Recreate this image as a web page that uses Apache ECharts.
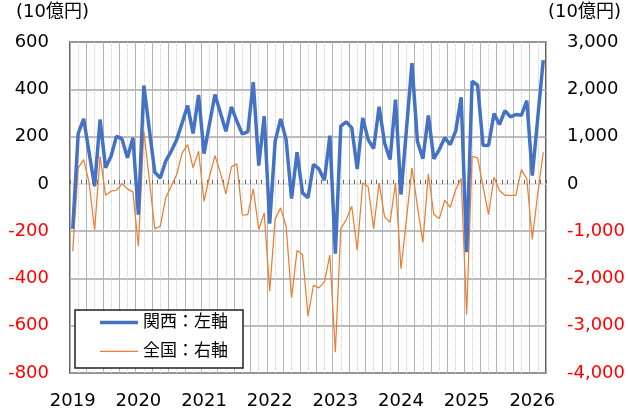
<!DOCTYPE html>
<html><head><meta charset="utf-8">
<script src="https://cdn.jsdelivr.net/npm/echarts@6/dist/echarts.min.js"></script>
<style>html,body{margin:0;padding:0;background:#fff}#c{width:628px;height:410px}</style>
</head><body><div id="c"></div>
<script>
const categories = [
'2019/1','2019/2','2019/3','2019/4','2019/5','2019/6','2019/7','2019/8','2019/9','2019/10','2019/11','2019/12',
'2020/1','2020/2','2020/3','2020/4','2020/5','2020/6','2020/7','2020/8','2020/9','2020/10','2020/11','2020/12',
'2021/1','2021/2','2021/3','2021/4','2021/5','2021/6','2021/7','2021/8','2021/9','2021/10','2021/11','2021/12',
'2022/1','2022/2','2022/3','2022/4','2022/5','2022/6','2022/7','2022/8','2022/9','2022/10','2022/11','2022/12',
'2023/1','2023/2','2023/3','2023/4','2023/5','2023/6','2023/7','2023/8','2023/9','2023/10','2023/11','2023/12',
'2024/1','2024/2','2024/3','2024/4','2024/5','2024/6','2024/7','2024/8','2024/9','2024/10','2024/11','2024/12',
'2025/1','2025/2','2025/3','2025/4','2025/5','2025/6','2025/7','2025/8','2025/9','2025/10','2025/11','2025/12',
'2026/1','2026/2','2026/3'];
const kansai = [
-190,213,275,131,-10,272,68,117,201,190,110,195,
-130,416,230,49,25,96,138,187,258,331,213,376,
128,254,378,300,222,326,265,211,220,430,77,286,
-168,180,275,187,-62,134,-38,-59,82,63,15,204,
-295,244,262,237,63,279,187,149,326,173,103,356,
-45,230,511,180,106,289,106,145,195,166,223,366,
-289,434,417,163,162,297,251,310,283,293,290,352,
35,279,523];
const zenkoku = [
-1425,338,514,21,-981,584,-241,-156,-135,6,-106,-169,
-1319,1112,91,-951,-896,-296,-51,197,655,831,338,689,
-368,161,598,233,-211,359,423,-664,-649,-106,-966,-613,
-2270,-740,-508,-896,-2410,-1410,-1494,-2799,-2144,-2199,-2072,-1509,
-3560,-945,-755,-473,-1404,21,-63,-951,21,-699,-812,21,
-1797,-750,338,-470,-1235,212,-649,-734,-347,-495,-120,112,
-2763,584,550,-51,-649,140,-142,-241,-241,-241,302,106,
-1177,-200,668];
const seriesNames = ['関西：左軸', '全国：右軸'];
const unitLabel = '(10億円)';

const FONT = '"DejaVu Sans", "Noto Sans CJK JP", sans-serif';
const negRed = v => (Number(v) < 0 ? '#FF0000' : '#000000');
const legendText = {fontSize: 17, color: '#000', fontFamily: FONT};
const chart = echarts.init(document.getElementById('c'), null, {renderer: 'canvas'});
chart.setOption({
  animation: false,
  backgroundColor: '#fff',
  textStyle: {fontFamily: FONT},
  grid: {left: 70, right: 81, top: 42, bottom: 37, show: true, borderColor: '#333', borderWidth: 1.5, backgroundColor: 'transparent'},
  graphic: [
    {type: 'text', left: 16, top: 3, style: {text: unitLabel, font: '18px ' + FONT, fill: '#000'}},
    {type: 'text', left: 548, top: 3, style: {text: unitLabel, font: '18px ' + FONT, fill: '#000'}},
    {type: 'rect', z: 100, shape: {x: 75, y: 310, width: 168, height: 58},
     style: {fill: '#fff', stroke: '#222', lineWidth: 1.5}}
  ],
  legend: [
    {left: 100, top: 314, padding: 0, itemWidth: 38, itemHeight: 3.5, icon: 'rect', z: 200,
     textStyle: legendText, data: [seriesNames[0]]},
    {left: 100, top: 343, padding: 0, itemWidth: 38, itemHeight: 1.25, icon: 'rect', z: 200,
     textStyle: legendText, data: [seriesNames[1]]}
  ],
  xAxis: [
    {
      type: 'category', data: categories, boundaryGap: true, position: 'bottom',
      axisLine: {show: false},
      axisTick: {show: true, inside: true, length: 4, interval: 0, lineStyle: {color: '#666'}},
      axisLabel: {
        interval: (idx) => idx % 12 === 0,
        formatter: (v) => v.split('/')[0],
        fontSize: 18, color: '#000', margin: 19, fontFamily: FONT
      },
      splitLine: {show: false}
    },
    {
      type: 'value', min: 0, max: 87, interval: 3, position: 'bottom',
      axisLine: {show: false}, axisTick: {show: false}, axisLabel: {show: false},
      splitLine: {show: true, lineStyle: {color: '#b4b4b4', width: 1}},
      minorTick: {show: false, splitNumber: 2},
      minorSplitLine: {show: true, lineStyle: {color: '#cfcfcf', width: 1, type: 'dotted'}}
    }
  ],
  yAxis: [
    {
      type: 'value', min: -800, max: 600, interval: 200, position: 'left',
      axisLine: {show: false}, axisTick: {show: false},
      axisLabel: {fontSize: 18, margin: 21, color: negRed, fontFamily: FONT},
      splitLine: {show: true, lineStyle: {width: 1.5, color: ['#a6a6a6','#a6a6a6','#a6a6a6','#a6a6a6','#d9d9d9','#a6a6a6','#a6a6a6','#a6a6a6']}}
    },
    {
      type: 'value', min: -4000, max: 3000, interval: 1000, position: 'right',
      axisLine: {show: false}, axisTick: {show: false},
      axisLabel: {fontSize: 18, margin: 21, color: negRed, fontFamily: FONT,
        formatter: v => Number(v).toLocaleString('en-US')},
      splitLine: {show: false}
    }
  ],
  series: [
    {name: seriesNames[0], type: 'line', xAxisIndex: 0, yAxisIndex: 0, data: kansai, symbol: 'none', z: 4,
     lineStyle: {color: '#4472C4', width: 3.5}, itemStyle: {color: '#4472C4'}},
    {name: seriesNames[1], type: 'line', xAxisIndex: 0, yAxisIndex: 1, data: zenkoku, symbol: 'none', z: 3,
     lineStyle: {color: '#ED7D31', width: 1.25}, itemStyle: {color: '#ED7D31'}}
  ]
});
</script></body></html>
